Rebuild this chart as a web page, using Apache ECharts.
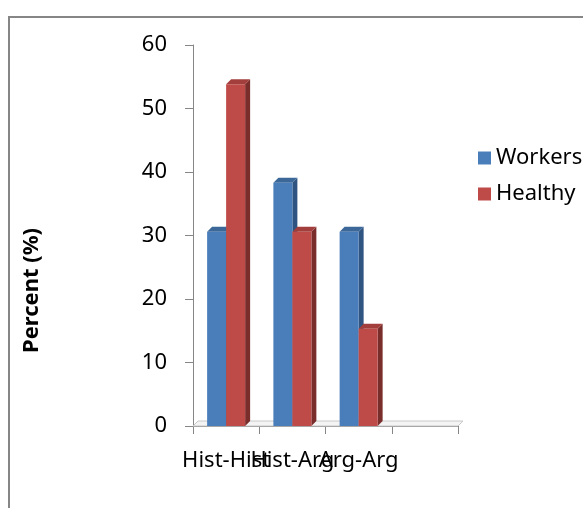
<!DOCTYPE html>
<html><head><meta charset="utf-8">
<script src="https://cdn.jsdelivr.net/npm/echarts@6/dist/echarts.min.js"></script>
<style>
html,body{margin:0;padding:0;background:#fff;}
#frame{position:absolute;left:8px;top:16px;width:600px;height:520px;border-left:2px solid #868686;border-top:2px solid #868686;}
#c{position:absolute;left:0;top:0;width:583px;height:508px;}
</style></head>
<body><div id="frame"></div><div id="c"></div>
<script>
var categories = ['Hist-Hist', 'Hist-Arg', 'Arg-Arg', ''];
var workers = [30.6, 38.3, 30.6, null];
var healthy = [53.8, 30.6, 15.3, null];
var yTicks = [0, 10, 20, 30, 40, 50, 60];
var yTitle = 'Percent (%)';

var chart = echarts.init(document.getElementById('c'), null, {renderer: 'canvas'});
var FONT = 'Noto Sans';
var DEPTH = 5, BW = 19;

function bar3d(side, front, top, sideCol) {
  return function (params, api) {
    var v = api.value(1);
    if (v == null || isNaN(v)) return;
    var base = api.coord([api.value(0), 0]);
    var tp = api.coord([api.value(0), v]);
    var x0 = side < 0 ? base[0] - BW : base[0];
    var w = BW, y0 = tp[1], y1 = base[1], d = DEPTH;
    return {
      type: 'group',
      children: [
        {type: 'polygon', shape: {points: [[x0 + w, y0], [x0 + w + d, y0 - d], [x0 + w + d, y1 - d], [x0 + w, y1]]}, style: {fill: sideCol}},
        {type: 'polygon', shape: {points: [[x0, y0], [x0 + d, y0 - d], [x0 + w + d, y0 - d], [x0 + w, y0]]}, style: {fill: top}},
        {type: 'rect', shape: {x: x0, y: y0, width: w, height: y1 - y0}, style: {fill: front}}
      ]
    };
  };
}

function toData(arr) { return arr.map(function (v, i) { return [i, v]; }); }

var option = {
  animation: false,
  grid: {left: 193, top: 45, width: 265, height: 381},
  graphic: [{
    type: 'text', left: 21, top: 228, rotation: Math.PI / 2,
    style: {text: yTitle, font: 'bold 22px "Noto Sans"', fill: '#000'}
  }],
  legend: {
    orient: 'vertical', left: 473, top: 141,
    icon: 'rect', itemWidth: 13, itemHeight: 13, itemGap: 12,
    textStyle: {fontFamily: FONT, fontSize: 22, color: '#000', lineHeight: 24},
    data: [{name: 'Workers', itemStyle: {color: '#4A7EBB'}}, {name: 'Healthy', itemStyle: {color: '#BE4B48'}}]
  },
  xAxis: {
    type: 'category', data: categories, boundaryGap: true,
    axisLine: {lineStyle: {color: '#868686', width: 1}},
    axisTick: {show: true, length: 8, alignWithLabel: false, lineStyle: {color: '#868686'}},
    axisLabel: {interval: 0, margin: 24, fontFamily: FONT, fontSize: 22, color: '#000'}
  },
  yAxis: {
    type: 'value', min: yTicks[0], max: yTicks[yTicks.length - 1], interval: 10,
    axisLine: {show: true, lineStyle: {color: '#868686', width: 1}},
    axisTick: {show: true, length: 8, lineStyle: {color: '#868686'}},
    axisLabel: {margin: 26, fontFamily: FONT, fontSize: 22, color: '#000'},
    splitLine: {show: false}
  },
  series: [
    {
      name: 'floor', type: 'custom', z: 1, silent: true, data: [[0, 0]],
      renderItem: function (params, api) {
        var c0 = api.coord([0, 0]);
        var cw = api.size([1, 0])[0];
        var left = c0[0] - cw / 2, right = left + cw * categories.length, y = c0[1], d = DEPTH;
        return {type: 'polygon', shape: {points: [[left, y], [left + d, y - d], [right + d, y - d], [right, y]]},
          style: {fill: '#F4F4F4', stroke: '#C8C8C8', lineWidth: 1}};
      }
    },
    {name: 'Workers', type: 'custom', z: 2, itemStyle: {color: '#4A7EBB'}, data: toData(workers),
      renderItem: bar3d(-1, '#4A7EBB', '#3B6799', '#2F5481')},
    {name: 'Healthy', type: 'custom', z: 2, itemStyle: {color: '#BE4B48'}, data: toData(healthy),
      renderItem: bar3d(1, '#BE4B48', '#A23F3C', '#7A2E2C')}
  ]
};
chart.setOption(option);
</script></body></html>
